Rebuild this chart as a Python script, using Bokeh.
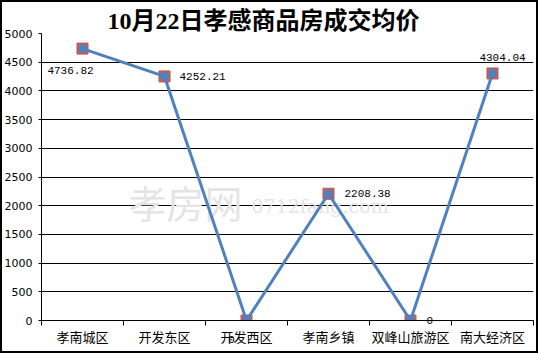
from bokeh.plotting import figure
from bokeh.models import Range1d, FixedTicker, ColumnDataSource
from bokeh.core.properties import value
from bokeh.embed import file_html
from bokeh.resources import INLINE

title = "10月22日孝感商品房成交均价"
categories = ["孝南城区", "开发东区", "开发西区", "孝南乡镇", "双峰山旅游区", "南大经济区"]
prices = [4736.82, 4252.21, 0, 2208.38, 0, 4304.04]
price_labels = ["4736.82", "4252.21", "0", "2208.38", "0", "4304.04"]
y_ticks = list(range(0, 5001, 500))

xs = [i + 0.5 for i in range(len(categories))]

# label layout (screen px offsets, positive = down)
lab_dx = [-12, 15, -15, 16, 16, 10]
lab_dy = [22, 0, 19, 0, 0, -16]
lab_align = ["center", "left", "center", "left", "left", "center"]

p = figure(frame_width=492, frame_height=287, output_backend="svg", toolbar_location=None,
           x_range=Range1d(0, len(categories)), y_range=Range1d(0, 5000),
           min_border_left=41, min_border_right=5, min_border_top=33, min_border_bottom=33,
           title=title)
p.outline_line_color = None
p.background_fill_color = "white"
p.border_fill_color = "white"

p.title.text_font = "'Liberation Serif', 'Noto Sans CJK SC'"
p.title.text_font_size = "24px"
p.title.text_font_style = "bold"
p.title.text_color = "black"
p.title.text_line_height = 1.0
p.title.align = "left"
p.title.offset = 66
p.title.standoff = 0

# x axis
xa = p.xaxis[0]
xa.ticker = FixedTicker(ticks=xs, minor_ticks=list(range(len(categories) + 1)))
xa.major_label_overrides = {x: c for x, c in zip(xs, categories)}
xa.major_tick_out = 0
xa.major_tick_in = 0
xa.minor_tick_out = 5
xa.minor_tick_in = 0
xa.minor_tick_line_color = "black"
xa.axis_line_color = "black"
xa.major_label_text_font = "Noto Sans CJK SC"
xa.major_label_text_font_size = "13px"
xa.major_label_text_color = "black"
xa.major_label_standoff = 1

# y axis
ya = p.yaxis[0]
ya.ticker = FixedTicker(ticks=y_ticks, minor_ticks=[])
ya.major_tick_out = 3
ya.major_tick_in = 0
ya.major_tick_line_color = "black"
ya.axis_line_color = "black"
ya.major_label_text_font = "DejaVu Sans"
ya.major_label_text_font_size = "11px"
ya.major_label_text_color = "black"
ya.major_label_standoff = 6

p.xgrid.visible = False
p.ygrid[0].ticker = FixedTicker(ticks=y_ticks, minor_ticks=[])
p.ygrid.grid_line_color = "black"
p.ygrid.grid_line_width = 1

# watermark
p.text(x=[1.06], y=[2080], text=["孝房网"], text_font=value("Noto Sans CJK SC"),
       text_font_size="38px", text_color="#e4e4e4", text_baseline="middle")
p.text(x=[2.56], y=[2000], text=["0712fang.com"], text_font=value("DejaVu Serif"),
       text_font_size="19px", text_color="#e4e4e4", text_baseline="middle")

src = ColumnDataSource(dict(x=xs, y=prices, lab=price_labels, dx=lab_dx, dy=lab_dy, al=lab_align))
p.scatter("x", "y", source=src, marker="square", size=11, fill_color="#c0504d",
          line_color="#c0504d", fill_alpha=0.9)
p.line("x", "y", source=src, line_color="#4f81bd", line_width=3)
p.scatter("x", "y", source=src, marker="circle", size=8, fill_color="#4f81bd",
          line_color="#4f81bd")
p.text("x", "y", text="lab", source=src, x_offset="dx", y_offset="dy", text_align="al",
       text_baseline="middle", text_font=value("Liberation Mono"), text_font_size="11px",
       text_color="black", level="overlay")

html = file_html(p, INLINE)
frame_div = ('<div style="position:fixed;left:0;top:0;width:538px;height:353px;'
             'box-sizing:border-box;border:2px solid black;pointer-events:none;z-index:10"></div>')
html = html.replace("</body>", frame_div + "</body>")
open("out.html", "w").write(html)
